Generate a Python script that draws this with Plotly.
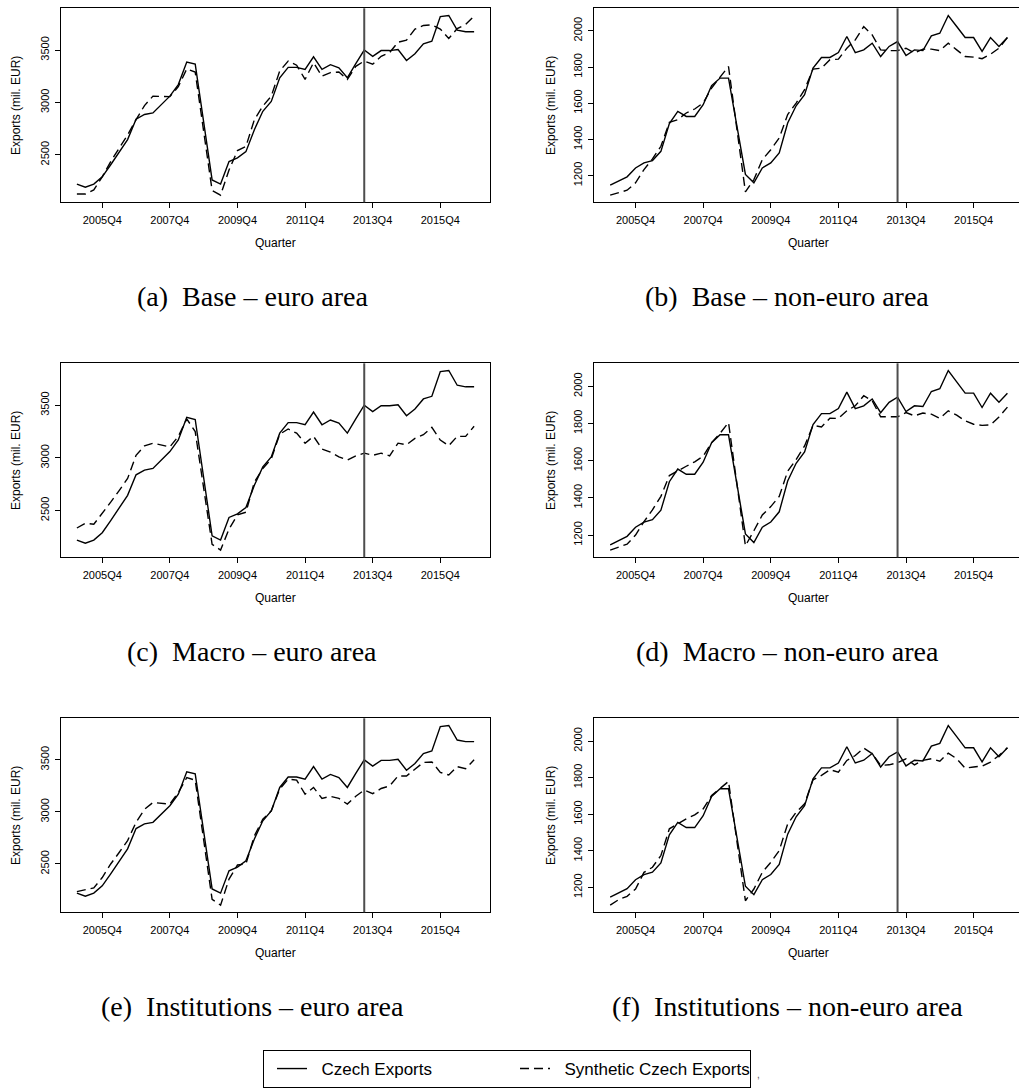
import plotly.graph_objects as go

# ---------------- data (quarterly, 2005Q1 .. 2016Q4) ----------------
QUARTERS = [f"{y}Q{q}" for y in range(2005, 2017) for q in range(1, 5)]
TICK_LABELS = ["2005Q4", "2007Q4", "2009Q4", "2011Q4", "2013Q4", "2015Q4"]
TREATMENT_QUARTER = "2013Q3"

CZECH_EURO = [2220, 2190, 2220, 2290, 2405, 2520, 2645, 2840, 2885, 2900, 2980, 3060,
              3170, 3385, 3365, 2810, 2260, 2220, 2435, 2470, 2530, 2740, 2915, 3010,
              3235, 3335, 3335, 3315, 3435, 3315, 3360, 3330, 3235, 3370, 3500, 3440,
              3495, 3495, 3505, 3400, 3465, 3560, 3585, 3820, 3830, 3690, 3675, 3675]
SYNTH_BASE_EURO = [2125, 2125, 2165, 2290, 2435, 2565, 2690, 2835, 2970, 3060, 3060, 3055,
                   3150, 3320, 3290, 2710, 2160, 2115, 2355, 2540, 2580, 2835, 2965, 3060,
                   3300, 3395, 3355, 3220, 3380, 3250, 3285, 3290, 3220, 3345, 3395, 3365,
                   3440, 3475, 3575, 3595, 3700, 3735, 3740, 3700, 3610, 3705, 3745, 3825]
SYNTH_MACRO_EURO = [2335, 2380, 2370, 2470, 2580, 2690, 2805, 3025, 3115, 3140, 3125, 3105,
                    3205, 3370, 3250, 2710, 2180, 2125, 2325, 2460, 2485, 2770, 2900, 2990,
                    3225, 3275, 3235, 3140, 3205, 3085, 3055, 3010, 2980, 3020, 3045, 3025,
                    3045, 3020, 3140, 3125, 3185, 3220, 3290, 3170, 3115, 3205, 3205, 3300]
SYNTH_INST_EURO = [2235, 2250, 2270, 2370, 2500, 2610, 2725, 2900, 3025, 3090, 3085, 3075,
                   3185, 3330, 3305, 2710, 2160, 2105, 2355, 2490, 2500, 2770, 2930, 3010,
                   3220, 3315, 3305, 3170, 3235, 3130, 3150, 3130, 3075, 3150, 3210, 3175,
                   3225, 3250, 3345, 3345, 3410, 3475, 3480, 3380, 3355, 3435, 3415, 3500]

CZECH_NON = [1147, 1172, 1193, 1242, 1270, 1283, 1334, 1487, 1555, 1527, 1527, 1592,
             1697, 1739, 1739, 1472, 1206, 1160, 1242, 1270, 1325, 1491, 1586, 1647,
             1794, 1853, 1853, 1880, 1969, 1880, 1895, 1932, 1858, 1914, 1941, 1864,
             1895, 1891, 1972, 1987, 2085, 2024, 1963, 1963, 1886, 1963, 1914, 1963]
SYNTH_BASE_NON = [1092, 1104, 1119, 1160, 1233, 1292, 1362, 1494, 1509, 1546, 1568, 1601,
                  1684, 1744, 1803, 1454, 1110, 1178, 1288, 1343, 1408, 1537, 1601, 1675,
                  1789, 1794, 1840, 1844, 1904, 1950, 2024, 1978, 1895, 1891, 1891, 1904,
                  1877, 1899, 1899, 1891, 1932, 1895, 1858, 1855, 1846, 1871, 1904, 1963]
SYNTH_MACRO_NON = [1119, 1137, 1151, 1200, 1272, 1335, 1408, 1520, 1543, 1570, 1594, 1624,
                   1697, 1747, 1805, 1470, 1142, 1223, 1308, 1353, 1408, 1543, 1606, 1679,
                   1790, 1781, 1828, 1827, 1868, 1895, 1949, 1922, 1836, 1836, 1836, 1859,
                   1841, 1856, 1850, 1828, 1868, 1845, 1814, 1796, 1790, 1792, 1835, 1888]
SYNTH_INST_NON = [1103, 1133, 1151, 1191, 1282, 1310, 1374, 1520, 1547, 1575, 1596, 1629,
                  1702, 1743, 1779, 1450, 1127, 1191, 1282, 1337, 1401, 1547, 1611, 1657,
                  1788, 1812, 1843, 1830, 1894, 1921, 1962, 1931, 1867, 1870, 1881, 1903,
                  1870, 1894, 1903, 1890, 1934, 1903, 1852, 1858, 1863, 1885, 1921, 1963]

EURO_TICKS = [2500, 3000, 3500]
NON_TICKS = [1200, 1400, 1600, 1800, 2000]

CAPTIONS = ["(a)\u2002Base – euro area", "(b)\u2002Base – non-euro area",
            "(c)\u2002Macro – euro area", "(d)\u2002Macro – non-euro area",
            "(e)\u2002Institutions – euro area", "(f)\u2002Institutions – non-euro area"]
LEGEND_NAMES = ["\u00a0\u00a0Czech Exports", "\u00a0\u00a0Synthetic Czech Exports"]

# ---------------- layout geometry (pixels) ----------------
W, H = 1019, 1088
SANS = "Liberation Sans, Arial, sans-serif"
SERIF = "Liberation Serif, Times New Roman, serif"
COL_BOX = [(61.0, 490.0), (594.3, 1019.0)]
ROW_TOP = [8.3, 363.3, 718.3]
BOX_H = 194.0
XR = [[-0.88, 49.88], [-0.88, 49.37]]

x_idx = list(range(1, len(QUARTERS) + 1))
tick_pos = [QUARTERS.index(t) + 1 for t in TICK_LABELS]
treat_pos = QUARTERS.index(TREATMENT_QUARTER) + 1

panels = [
    (CZECH_EURO, SYNTH_BASE_EURO, EURO_TICKS),
    (CZECH_NON, SYNTH_BASE_NON, NON_TICKS),
    (CZECH_EURO, SYNTH_MACRO_EURO, EURO_TICKS),
    (CZECH_NON, SYNTH_MACRO_NON, NON_TICKS),
    (CZECH_EURO, SYNTH_INST_EURO, EURO_TICKS),
    (CZECH_NON, SYNTH_INST_NON, NON_TICKS),
]

fig = go.Figure()
annotations = []
shapes = []
layout_axes = {}

for k, (actual, synth, yt) in enumerate(panels):
    row, col = divmod(k, 2)
    n = k + 1
    xa = "x" if n == 1 else f"x{n}"
    ya = "y" if n == 1 else f"y{n}"
    x0, x1 = COL_BOX[col]
    top = ROW_TOP[row]
    bot = top + BOX_H
    lo = min(min(actual), min(synth))
    hi = max(max(actual), max(synth))
    pad = 0.04 * (hi - lo)

    fig.add_trace(go.Scatter(
        x=x_idx, y=actual, mode="lines", name=LEGEND_NAMES[0],
        line=dict(color="black", width=1.4), xaxis=xa, yaxis=ya,
        showlegend=(k == 0), legendrank=1))
    fig.add_trace(go.Scatter(
        x=x_idx, y=synth, mode="lines", name=LEGEND_NAMES[1],
        line=dict(color="black", width=1.4, dash="9px,5px"), xaxis=xa, yaxis=ya,
        showlegend=(k == 0), legendrank=2))

    common = dict(showgrid=False, zeroline=False, showline=True, linecolor="black",
                  linewidth=1.2, ticks="outside", ticklen=5, tickwidth=1, tickcolor="black",
                  tickfont=dict(family=SANS, size=11, color="black"))
    layout_axes["xaxis" if n == 1 else f"xaxis{n}"] = dict(
        domain=[x0 / W, x1 / W], range=XR[col], anchor=ya,
        tickmode="array", tickvals=tick_pos, ticktext=TICK_LABELS,
        mirror=True, ticklabelstandoff=2, **common)
    layout_axes["yaxis" if n == 1 else f"yaxis{n}"] = dict(
        domain=[1 - bot / H, 1 - top / H], range=[lo - pad, hi + pad], anchor=xa,
        tickmode="array", tickvals=yt, tickangle=-90,
        mirror=(col == 0), ticklabelstandoff=2, **common)

    # treatment line
    shapes.append(dict(type="line", xref=xa, yref=f"{ya} domain", x0=treat_pos, x1=treat_pos,
                       y0=0, y1=1, line=dict(color="#4d4d4d", width=2)))

    # axis titles
    ylab_x = 16.7 if col == 0 else 551.7
    annotations.append(dict(text="Exports (mil. EUR)", textangle=-90, xref="paper", yref="paper",
                            x=ylab_x / W, y=1 - (top + bot) / 2 / H, showarrow=False,
                            xanchor="center", yanchor="middle",
                            font=dict(family=SANS, size=12, color="black")))
    annotations.append(dict(text="Quarter", xref="paper", yref="paper",
                            x=(x0 + (x0 + 429.0)) / 2 / W, y=1 - (top + 235.0) / H,
                            showarrow=False, xanchor="center", yanchor="middle",
                            font=dict(family=SANS, size=12, color="black")))
    # caption
    cap_x = 252.0 if col == 0 else 787.0
    annotations.append(dict(text=CAPTIONS[k], xref="paper", yref="paper",
                            x=cap_x / W, y=1 - (top + 288.4) / H, showarrow=False,
                            xanchor="center", yanchor="middle",
                            font=dict(family=SERIF, size=28, color="black")))

# stray comma next to the legend box in the source
annotations.append(dict(text=",", xref="paper", yref="paper", x=755 / W, y=1 - 1074 / H,
                        showarrow=False, xanchor="left", yanchor="middle",
                        font=dict(family=SANS, size=10, color="#555555")))

fig.update_layout(
    width=W, height=H, margin=dict(l=0, r=0, t=0, b=0),
    paper_bgcolor="white", plot_bgcolor="white",
    annotations=annotations, shapes=shapes,
    legend=dict(orientation="h", x=263 / W, y=1 - 1050 / H, xanchor="left", yanchor="top",
                bordercolor="black", borderwidth=1, bgcolor="white",
                entrywidth=190, entrywidthmode="pixels", itemwidth=30, indentation=8,
                font=dict(family=SANS, size=17, color="black"),
                traceorder="normal"),
    **layout_axes,
)

fig.write_html("out.html")
